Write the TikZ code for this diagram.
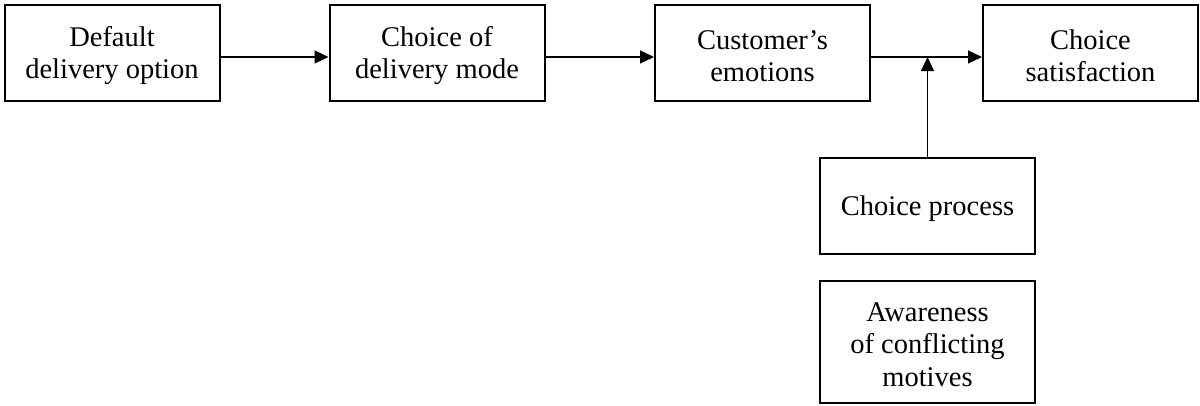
\documentclass[tikz,border=0pt]{standalone}
\usepackage{fontspec}
\setmainfont{Liberation Serif}
\usetikzlibrary{arrows.meta}
\newcommand{\tp}{\rule{0pt}{25pt}}
\begin{document}
\begin{tikzpicture}[x=1pt,y=-1pt,
  box/.style={draw,line width=2pt,minimum width=215pt,align=center,inner sep=0pt,
    font=\fontsize{28.5}{32.5}\selectfont},
  conn/.style={line width=1.2pt,-{Triangle[length=14pt,width=13pt]}}]
\useasboundingbox (0,0) rectangle (1200,405);
\node[box,minimum height=96pt] (b1) at (112,53) {\tp Default\\delivery option};
\node[box,minimum height=96pt] (b2) at (437,53) {\tp Choice of\\delivery mode};
\node[box,minimum height=96pt] (b3) at (762.5,53) {\tp Customer’s\\emotions};
\node[box,minimum height=96pt] (b4) at (1090.5,53) {\tp Choice\\satisfaction};
\node[box,minimum height=96pt] (cp) at (927.5,206) {\tp Choice process};
\node[box,minimum height=122pt] (aw) at (927.5,341.5) {\tp Awareness\\of conflicting\\motives};
\draw[conn] ([yshift=-4pt]b1.east) -- ([yshift=-4pt]b2.west);
\draw[conn] ([yshift=-4pt]b2.east) -- ([yshift=-4pt]b3.west);
\draw[conn] ([yshift=-4pt]b3.east) -- ([yshift=-4pt]b4.west);
\coordinate (j) at ([yshift=-4pt]cp.north |- b3.east);
\draw[conn] (cp.north) -- (j);
\end{tikzpicture}
\end{document}
